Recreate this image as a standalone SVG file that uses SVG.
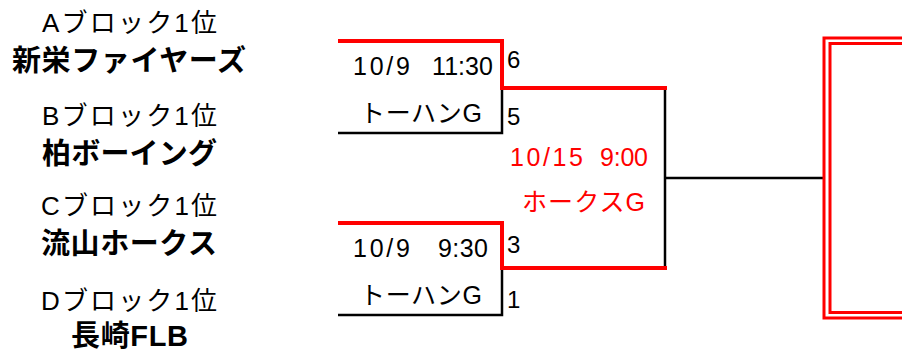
<svg xmlns="http://www.w3.org/2000/svg" width="902" height="351" viewBox="0 0 902 351">
<style>
text{font-family:"Liberation Sans","Noto Sans CJK JP",sans-serif;fill:#000}
.blk{font-size:26px}
.team{font-size:29px;font-weight:bold}
.info{font-size:25px}
.seed{font-size:24px}
.red{fill:#ff0000}
.lr{stroke:#ff0000;stroke-width:4;fill:none}
.lb{stroke:#000;stroke-width:2.5;fill:none}
.dbl{stroke:#ff0000;stroke-width:3;fill:none}
</style>
<rect width="902" height="351" fill="#fff"/>
<g id="teams">
<g id="teamA"><text class="blk" x="42" y="32" textLength="175">Aブロック1位</text><text class="team" x="12" y="71" textLength="234">新栄ファイヤーズ</text></g>
<g id="teamB"><text class="blk" x="42" y="125" textLength="175">Bブロック1位</text><text class="team" x="42" y="164" textLength="175">柏ボーイング</text></g>
<g id="teamC"><text class="blk" x="41" y="215" textLength="176">Cブロック1位</text><text class="team" x="41" y="254" textLength="176">流山ホークス</text></g>
<g id="teamD"><text class="blk" x="41" y="310" textLength="176">Dブロック1位</text><text class="team" x="71" y="346" textLength="117">長崎FLB</text></g>
</g>
<g id="connectors">
<polyline class="lb" points="338,133 502,133 502,90"/>
<polyline class="lb" points="338,315 502,315 502,270"/>
<polyline class="lb" points="665,88 665,270"/>
<line class="lb" x1="665" y1="178" x2="823" y2="178"/>
<polyline class="lr" points="338,41 502,41 502,88 667,88"/>
<polyline class="lr" points="338,223 502,223 502,268 667,268"/>
</g>
<g id="match1">
<text class="info" x="353" y="75" textLength="57">10/9</text>
<text class="info" x="432" y="75" textLength="61">11:30</text>
<text class="info" x="360" y="122" textLength="122">トーハンG</text>
<text class="seed" x="507" y="68">6</text>
<text class="seed" x="507" y="125">5</text>
</g>
<g id="match2">
<text class="info" x="353" y="257" textLength="57">10/9</text>
<text class="info" x="438" y="257" textLength="50">9:30</text>
<text class="info" x="360" y="304" textLength="122">トーハンG</text>
<text class="seed" x="507" y="253">3</text>
<text class="seed" x="507" y="308">1</text>
</g>
<g id="semi">
<text class="info red" x="510" y="166" textLength="73">10/15</text>
<text class="info red" x="600" y="166" textLength="48">9:00</text>
<text class="info red" x="522" y="211" textLength="123">ホークスG</text>
</g>
<g id="final">
<polyline class="dbl" points="902,38 824,38 824,318 902,318"/>
<polyline class="dbl" points="902,43.5 830,43.5 830,312.5 902,312.5"/>
</g>
</svg>
